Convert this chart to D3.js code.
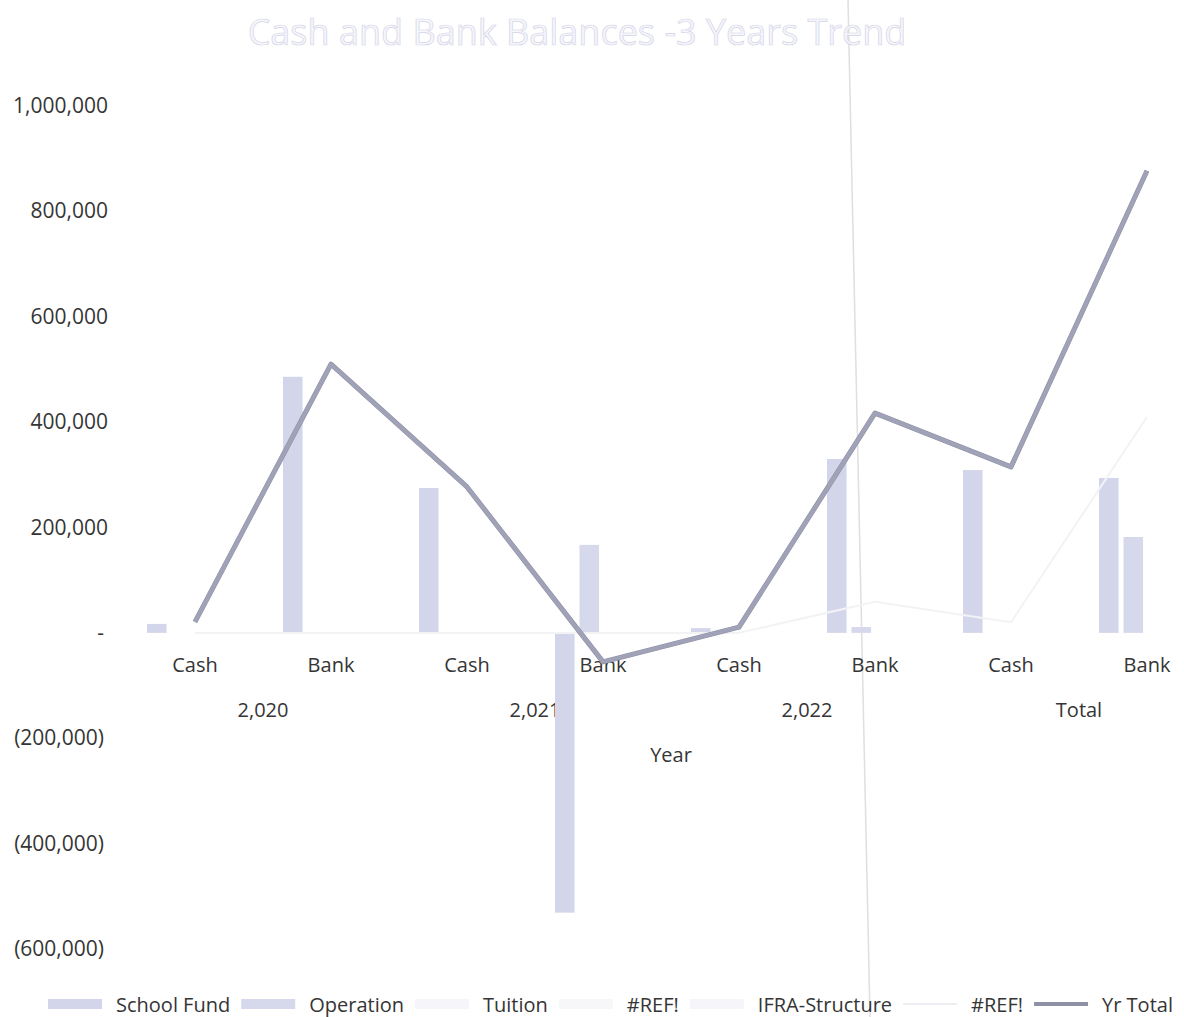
<!DOCTYPE html>
<html>
<head>
<meta charset="utf-8">
<script src="https://cdn.jsdelivr.net/npm/d3@7"></script>
<style>
  body { margin: 0; background: #fff; }
  text { font-family: "Open Sans", sans-serif; fill: #353535; }
</style>
</head>
<body>
<div id="chart"></div>
<script>
// categories on the x axis
var years = ['2,020', '2,021', '2,022', 'Total'];
var kinds = ['Cash', 'Bank'];
var yTicks = [-600000, -400000, -200000, 0, 200000, 400000, 600000, 800000, 1000000];

// series values, one per (year, kind) in order
var schoolFund   = [17000, 486000, 275000, -531000, 9000, 330000, 309000, 294000];
var operation    = [0, 0, 0, 167000, 0, 11000, 0, 182000];
var tuition      = [0, 0, 0, 0, 0, 0, 0, 0];
var ref1         = [0, 0, 0, 0, 0, 0, 0, 0];
var ifraStruct   = [0, 0, 0, 0, 0, 0, 0, 0];
var ref2         = [0, 0, 0, 0, 0, 59000, 20000, 410000];
var yrTotal      = [21000, 510000, 277000, -55000, 11000, 417000, 315000, 877000];

var barSeries = [
	{name: 'School Fund', values: schoolFund, color: '#d3d6ea'},
	{name: 'Operation', values: operation, color: '#d6d9ec'},
	{name: 'Tuition', values: tuition, color: '#f6f6fa'},
	{name: '#REF!', values: ref1, color: '#f7f7fa'},
	{name: 'IFRA-Structure', values: ifraStruct, color: '#f6f6fa'}
];
var lineSeries = [
	{name: '#REF!', values: ref2, color: '#f3f3f6', width: 2},
	{name: 'Yr Total', values: yrTotal, color: '#a0a2b7', width: 4}
];

var cats = [];
years.forEach(function(y) {
	kinds.forEach(function(k) { cats.push({key: y + '|' + k, year: y, kind: k}); });
});

var width = 1184, height = 1017;

var svg = d3.select('#chart')
	.append('svg')
	.attr('width', width)
	.attr('height', height);

var x0 = d3.scaleBand()
	.domain(cats.map(function(d) { return d.key; }))
	.range([127, 1215]);

var x1 = d3.scaleBand()
	.domain(barSeries.map(function(d, i) { return i; }))
	.range([20, 20 + 5 * 23.5])
	.paddingInner(0.2);

var y = d3.scaleLinear()
	.domain([-600000, 1000000])
	.range([949, 106]);

// scanner streak
svg.append('line')
	.attr('x1', 848).attr('y1', 0)
	.attr('x2', 870).attr('y2', height)
	.attr('stroke', '#e2dde0')
	.attr('stroke-width', 1.5);

// title
svg.append('text')
	.attr('x', 577)
	.attr('y', 45)
	.attr('text-anchor', 'middle')
	.style('font-size', '36px')
	.style('fill', '#f6f6fb')
	.style('stroke', '#d4d5e8')
	.style('stroke-width', '0.7px')
	.text('Cash and Bank Balances -3 Years Trend');

// y axis labels
var fmt = d3.format(',d');
svg.append('g').selectAll('text')
	.data(yTicks)
	.enter()
	.append('text')
	.attr('x', function(d) { return d <= 0 ? 104 : 108; })
	.attr('y', function(d) { return y(d) + 7; })
	.attr('text-anchor', 'end')
	.style('font-size', '21px')
	.text(function(d) {
		if (d === 0) return '-';
		return d < 0 ? '(' + fmt(-d) + ')' : fmt(d);
	});

// category labels
svg.append('g').selectAll('text')
	.data(cats)
	.enter()
	.append('text')
	.attr('x', function(d) { return x0(d.key) + x0.bandwidth() / 2; })
	.attr('y', 672)
	.attr('text-anchor', 'middle')
	.style('font-size', '20px')
	.text(function(d) { return d.kind; });

svg.append('g').selectAll('text')
	.data(years)
	.enter()
	.append('text')
	.attr('x', function(d) { return x0(d + '|Cash') + x0.bandwidth(); })
	.attr('y', 717)
	.attr('text-anchor', 'middle')
	.style('font-size', '20px')
	.text(function(d) { return d; });

svg.append('text')
	.attr('x', 671)
	.attr('y', 762)
	.attr('text-anchor', 'middle')
	.style('font-size', '20px')
	.text('Year');

// bars
var groups = svg.append('g').selectAll('g')
	.data(cats)
	.enter()
	.append('g')
	.attr('transform', function(d) { return 'translate(' + x0(d.key) + ',0)'; });

groups.selectAll('rect')
	.data(function(d, ci) {
		return barSeries.map(function(s, si) { return {si: si, v: s.values[ci], color: s.color}; });
	})
	.enter()
	.append('rect')
	.attr('x', function(d) { return x1(d.si); })
	.attr('width', x1.bandwidth())
	.attr('y', function(d) { return y(Math.max(0, d.v)); })
	.attr('height', function(d) { return Math.abs(y(d.v) - y(0)); })
	.attr('fill', function(d) { return d.color; });

// lines
var line = d3.line()
	.x(function(d, i) { return x0(cats[i].key) + x0.bandwidth() / 2; })
	.y(function(d) { return y(d); });

lineSeries.forEach(function(s) {
	if (s.name === 'Yr Total') {
		svg.append('path')
			.attr('d', line(s.values))
			.attr('fill', 'none')
			.attr('stroke', '#8e90a4')
			.attr('stroke-width', s.width + 1)
			.attr('stroke-linejoin', 'round');
	}
	svg.append('path')
		.attr('d', line(s.values))
		.attr('fill', 'none')
		.attr('stroke', s.color)
		.attr('stroke-width', s.width)
		.attr('stroke-linejoin', 'round');
});

// legend
var legendItems = barSeries.map(function(s) { return {name: s.name, color: s.color, type: 'bar'}; })
	.concat(lineSeries.map(function(s) { return {name: s.name, color: s.color, type: 'line'}; }));

var lx = 48, ly = 1004;
legendItems.forEach(function(it) {
	if (it.type === 'bar') {
		svg.append('rect')
			.attr('x', lx).attr('y', ly - 5)
			.attr('width', 54).attr('height', 10)
			.attr('fill', it.color);
	} else {
		svg.append('line')
			.attr('x1', lx).attr('x2', lx + 54)
			.attr('y1', ly).attr('y2', ly)
			.attr('stroke', it.name === 'Yr Total' ? '#8f91a6' : '#eeeef2')
			.attr('stroke-width', it.name === 'Yr Total' ? 4 : 2);
	}
	var t = svg.append('text')
		.attr('x', lx + 68)
		.attr('y', ly + 8)
		.style('font-size', '20px')
		.text(it.name);
	lx = lx + 68 + t.node().getComputedTextLength() + 11;
});
</script>
</body>
</html>
